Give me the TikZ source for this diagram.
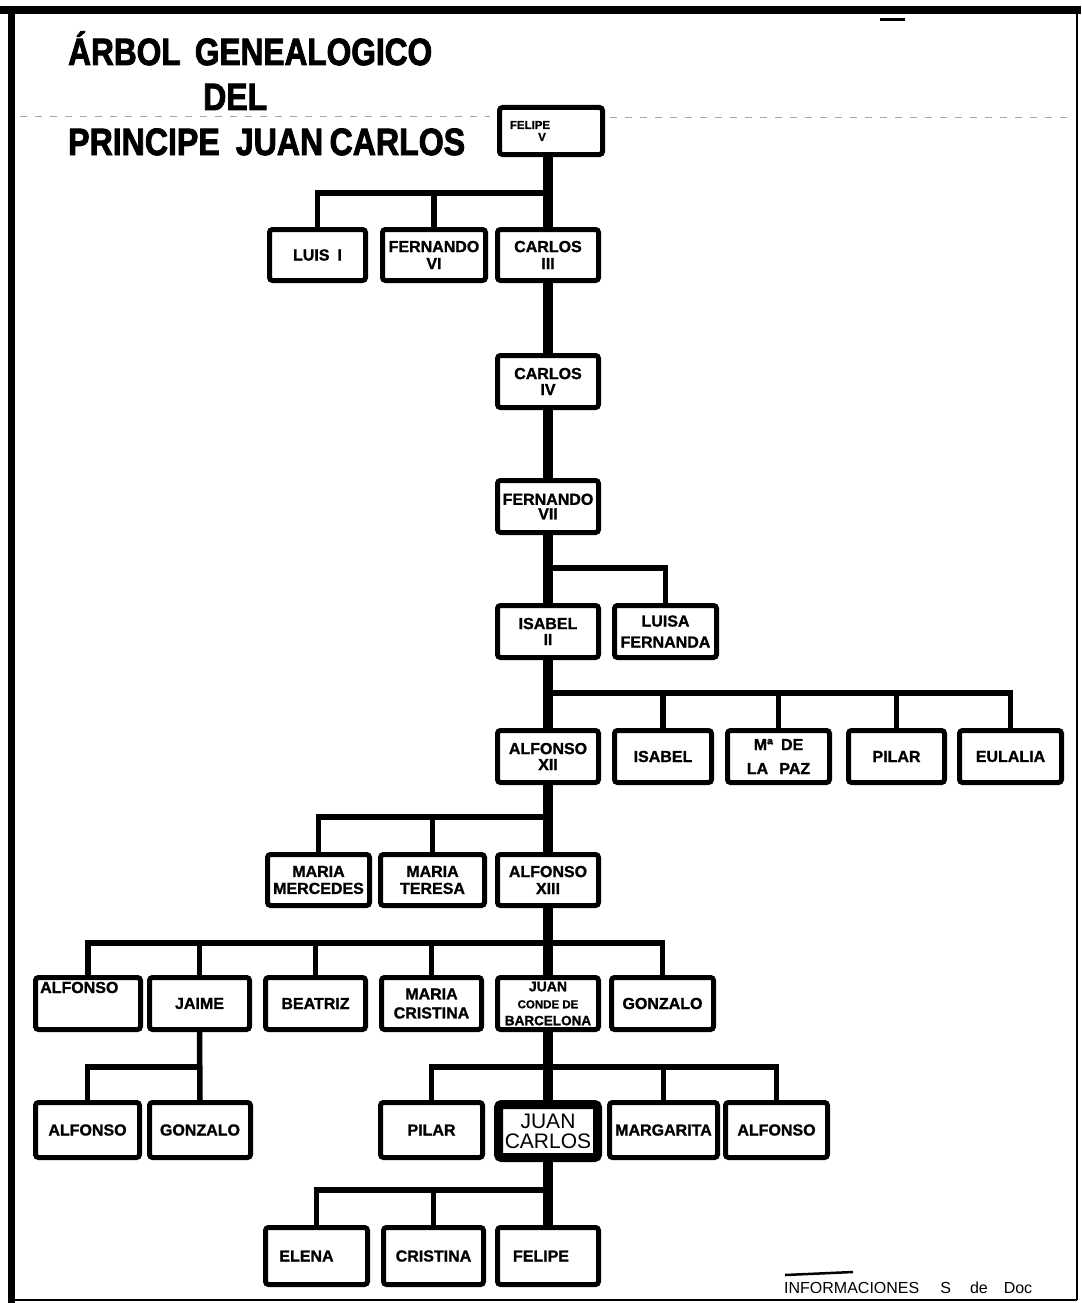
\documentclass[tikz,border=0pt]{standalone}
\usepackage{fontspec}
\setmainfont{Liberation Sans}[BoldFeatures={FakeBold=1.2}]
\newfontfamily\titlefont{Liberation Sans}[BoldFeatures={FakeBold=2.5}]
\usetikzlibrary{calc}
\newcommand\mybox[7][]{\node[famb,minimum width={#5-#3-5},minimum height={#6-#4-5},#1] (#2) at ({(#3+#5)/2},{(#4+#6)/2}) {#7};}
\begin{document}
\begin{tikzpicture}[x=1pt,y=-1pt,
 famb/.style={draw,line width=5pt,rounded corners=3pt,inner sep=0pt,align=center,font=\fontsize{16}{16}\selectfont\bfseries},
 trunk/.style={line width=10pt},
 branch/.style={line width=5.5pt},
 ttl/.style={anchor=base west,inner sep=0pt,font=\fontsize{38}{38}\selectfont\titlefont\bfseries},
 plain/.style={anchor=base west,inner sep=0pt}]
\useasboundingbox (0,0) rectangle (1081,1303);
\fill[white] (0,0) rectangle (1081,1303);
% frame
\coordinate (ftl) at (0,10);
\coordinate (ftr) at (1081,10);
\coordinate (flt) at (11,8);
\coordinate (flb) at (11,1303);
\coordinate (frt) at (1077,10);
\coordinate (frb) at (1077,1300);
\coordinate (fbl) at (11,1300);
\draw[line width=8pt] (ftl) -- (ftr);
\draw[line width=7pt] (flt) -- (flb);
\draw[line width=2pt] (frt) -- (frb);
\draw[line width=2pt] (fbl) -- (frb);
% faint scan lines
\coordinate (s1) at (20,117);
\coordinate (s2) at (490,117);
\coordinate (s3) at (610,118);
\coordinate (s4) at (1075,118);
\draw[gray!70,line width=1pt,dash pattern=on 7pt off 8pt] (s1) -- (s2);
\draw[gray!70,line width=1pt,dash pattern=on 7pt off 8pt] (s3) -- (s4);
\coordinate (d1) at (880,20);
\coordinate (d2) at (905,20);
\draw[line width=3pt] (d1) -- (d2);
% title
\node[ttl] (t1) at (68,65) {\resizebox{364pt}{\height}{ÁRBOL\hspace{0.45em}GENEALOGICO}};
\node[ttl] (t2) at (203,110) {\resizebox{64pt}{\height}{DEL}};
\node[ttl] (t3) at (68,155) {\resizebox{397pt}{\height}{PRINCIPE\hspace{0.5em}JUAN\hspace{0.2em}CARLOS}};
% boxes
\mybox[font=\fontsize{11.5}{12}\selectfont\bfseries]{f5}{497}{105}{605}{157}{FELIPE\hspace*{42pt}\\V\hspace*{18pt}}
\mybox{l1}{267}{227}{368}{283}{LUIS\hspace{0.5em}I}
\mybox[font=\fontsize{16}{17}\selectfont\bfseries]{f6}{380}{227}{488}{283}{FERNANDO\\VI}
\mybox[font=\fontsize{16}{17}\selectfont\bfseries]{c3}{495}{227}{601}{283}{CARLOS\\III}
\mybox{c4}{495}{353}{601}{410}{CARLOS\\IV}
\mybox[font=\fontsize{16}{14.5}\selectfont\bfseries]{f7}{495}{478}{601}{535}{FERNANDO\\VII}
\mybox{i2}{495}{603}{601}{660}{ISABEL\\II}
\mybox[font=\fontsize{16}{21}\selectfont\bfseries]{lf}{612}{603}{719}{660}{LUISA\\FERNANDA}
\mybox{a12}{495}{728}{601}{785}{ALFONSO\\XII}
\mybox{isa}{612}{728}{714}{785}{ISABEL}
\mybox[font=\fontsize{16}{24}\selectfont\bfseries]{mdp}{725}{728}{832}{785}{Mª\hspace{0.5em}DE\\LA\hspace{0.7em}PAZ}
\mybox{pil}{846}{728}{947}{785}{PILAR}
\mybox{eul}{957}{728}{1064}{785}{EULALIA}
\mybox[font=\fontsize{16}{17}\selectfont\bfseries]{mm}{265}{852}{372}{908}{MARIA\\MERCEDES}
\mybox[font=\fontsize{16}{17}\selectfont\bfseries]{mt}{378}{852}{487}{908}{MARIA\\TERESA}
\mybox[font=\fontsize{16}{17}\selectfont\bfseries]{a13}{495}{852}{601}{908}{ALFONSO\\XIII}
\mybox{alf}{33}{975}{143}{1032}{}
\node[plain,font=\fontsize{16}{16}\selectfont\bfseries] (alft) at ($(alf.north west)+(7,18)$) {ALFONSO};
\mybox{jai}{147}{975}{252}{1032}{JAIME}
\mybox{bea}{263}{975}{368}{1032}{BEATRIZ}
\mybox[font=\fontsize{16}{19}\selectfont\bfseries]{mcr}{379}{975}{484}{1032}{MARIA\\CRISTINA}
\mybox[font=\fontsize{13}{17}\selectfont\bfseries]{jcb}{495}{975}{601}{1032}{{\fontsize{14}{17}\selectfont JUAN}\\{\fontsize{11.5}{17}\selectfont CONDE DE}\\{\fontsize{13.5}{17}\selectfont BARCELONA}}
\mybox{gon}{609}{975}{716}{1032}{GONZALO}
\mybox{alf2}{33}{1100}{142}{1160}{ALFONSO}
\mybox{gon2}{147}{1100}{253}{1160}{GONZALO}
\mybox{pil2}{378}{1100}{485}{1160}{PILAR}
\mybox[line width=9pt,minimum width=99,minimum height=53,font=\fontsize{21}{20}\selectfont\mdseries]{jc}{494}{1100}{602}{1162}{JUAN\\CARLOS}
\mybox{mar}{607}{1100}{720}{1160}{MARGARITA}
\mybox{alf3}{723}{1100}{830}{1160}{ALFONSO}
\mybox{ele}{263}{1225}{370}{1287}{ELENA\hspace*{20pt}}
\mybox{cri}{381}{1225}{486}{1287}{CRISTINA}
\mybox{fel}{495}{1225}{601}{1287}{FELIPE\hspace*{14pt}}
% bus levels
\coordinate (bA) at (0,193);
\coordinate (bB) at (0,568);
\coordinate (bC) at (0,693);
\coordinate (bD) at (0,817);
\coordinate (bE) at (0,943);
\coordinate (bF) at (0,1067);
\coordinate (bG) at (0,1190);
% trunk
\draw[trunk] (c3.north |- f5.south) -- (c3.north);
\draw[trunk] (c3.south) -- (c4.north);
\draw[trunk] (c4.south) -- (f7.north);
\draw[trunk] (f7.south) -- (i2.north);
\draw[trunk] (i2.south) -- (a12.north);
\draw[trunk] (a12.south) -- (a13.north);
\draw[trunk] (a13.south) -- (jcb.north);
\draw[trunk] (jcb.south) -- (jc.north);
\draw[trunk] (jc.south) -- (fel.north);
% branches
\draw[branch] (c3.north |- bA) -| (l1.north);
\draw[branch] (c3.north |- bA) -| (f6.north);
\draw[branch] (i2.north |- bB) -| (lf.north);
\draw[branch] (a12.north |- bC) -| (isa.north);
\draw[branch] (a12.north |- bC) -| (mdp.north);
\draw[branch] (a12.north |- bC) -| (pil.north);
\draw[branch] (a12.north |- bC) -| (eul.north);
\draw[branch] (a13.north |- bD) -| (mm.north);
\draw[branch] (a13.north |- bD) -| (mt.north);
\draw[branch] (jcb.north |- bE) -| (alf.north);
\draw[branch] (jcb.north |- bE) -| (jai.north);
\draw[branch] (jcb.north |- bE) -| (bea.north);
\draw[branch] (jcb.north |- bE) -| (mcr.north);
\draw[branch] (jcb.north |- bE) -| (gon.north);
\draw[branch] (jai.south) -- (gon2.north);
\draw[branch] (gon2.north |- bF) -| (alf2.north);
\draw[branch] (jc.north |- bF) -| (pil2.north);
\draw[branch] (jc.north |- bF) -| (mar.north);
\draw[branch] (jc.north |- bF) -| (alf3.north);
\draw[branch] (fel.north |- bG) -| (ele.north);
\draw[branch] (fel.north |- bG) -| (cri.north);
% footer
\coordinate (u1) at (785,1275);
\coordinate (u2) at (853,1272);
\draw[line width=2.5pt] (u1) -- (u2);
\node[plain,font=\fontsize{16}{16}\selectfont] (foot) at (784,1293) {INFORMACIONES\hspace{21pt}S\hspace{19pt}de\hspace{16pt}Doc};
\end{tikzpicture}
\end{document}
